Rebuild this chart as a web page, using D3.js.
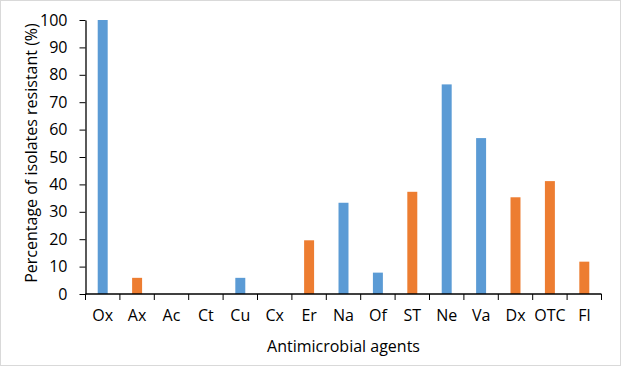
<!DOCTYPE html>
<html>
<head>
<meta charset="utf-8">
<script src="https://cdn.jsdelivr.net/npm/d3@7"></script>
<style>
  body { margin: 0; background: #fff; }
  svg { font-family: "Open Sans", "Noto Sans", sans-serif; }
</style>
</head>
<body>
<div id="chart"></div>
<script>
// Data
var agents = ["Ox", "Ax", "Ac", "Ct", "Cu", "Cx", "Er", "Na", "Of", "ST", "Ne", "Va", "Dx", "OTC", "Fl"];
var resistant = [100, 5.9, 0, 0, 5.9, 0, 19.6, 33.3, 7.8, 37.3, 76.5, 56.9, 35.3, 41.2, 11.8];
var group = ["b", "o", "o", "o", "b", "b", "o", "b", "b", "o", "b", "b", "o", "o", "o"];
var yTicks = [0, 10, 20, 30, 40, 50, 60, 70, 80, 90, 100];

var colors = { b: "#5B9BD5", o: "#ED7D31" };

var width = 622,
    height = 368;

// plot area
var plotLeft = 85.5, plotRight = 601.5, plotTop = 20, plotBottom = 294;

var svg = d3.select("#chart")
            .append("svg")
              .attr("width", width)
              .attr("height", height);

// chart border
svg.append("rect")
   .attr("x", 0.5).attr("y", 0.5)
   .attr("width", 620).attr("height", 365)
   .attr("fill", "#fff")
   .attr("stroke", "#d9d9d9");

// Scales
var scaleX = d3.scaleBand()
               .domain(agents)
               .range([plotLeft, plotRight])
               .paddingInner(0.71)
               .paddingOuter(0.355);

var scaleY = d3.scaleLinear()
               .domain([0, 100])
               .range([plotBottom, plotTop]);

// Bars
svg.selectAll(".bar")
   .data(agents)
   .enter()
   .append("rect")
     .attr("class", "bar")
     .attr("x", function(d) { return scaleX(d); })
     .attr("y", function(d, i) { return scaleY(resistant[i]); })
     .attr("width", scaleX.bandwidth())
     .attr("height", function(d, i) { return plotBottom - scaleY(resistant[i]); })
     .attr("fill", function(d, i) { return colors[group[i]]; });

// Y axis
var yAxis = svg.append("g")
   .attr("transform", "translate(" + plotLeft + ",0)")
   .call(d3.axisLeft(scaleY).tickValues(yTicks).tickSize(6).tickSizeOuter(0).tickPadding(12));

// X axis, tick marks sit between categories
var xAxis = svg.append("g")
   .attr("transform", "translate(0," + plotBottom + ")")
   .call(d3.axisBottom(scaleX).tickSize(0).tickPadding(16));

var step = (plotRight - plotLeft) / agents.length;
xAxis.selectAll(".sep")
     .data(d3.range(agents.length + 1))
     .enter()
     .append("line")
       .attr("class", "sep")
       .attr("x1", function(i) { return plotLeft + i * step; })
       .attr("x2", function(i) { return plotLeft + i * step; })
       .attr("y1", 0).attr("y2", 6)
       .attr("stroke", "#000");

[xAxis, yAxis].forEach(function(a) {
  a.select(".domain").attr("stroke", "#000").attr("stroke-width", 1.3);
  a.selectAll(".tick line").attr("stroke", "#000");
  a.selectAll("text").attr("font-size", "16px").attr("fill", "#000")
   .attr("font-family", "'Open Sans', sans-serif");
});
xAxis.select(".domain").attr("d", "M" + plotLeft + ",0H" + plotRight);

// Axis titles
svg.append("text")
   .attr("x", (plotLeft + plotRight) / 2)
   .attr("y", 352)
   .attr("text-anchor", "middle")
   .attr("font-size", "16px")
   .text("Antimicrobial agents");

svg.append("text")
   .attr("transform", "translate(37,153) rotate(-90)")
   .attr("text-anchor", "middle")
   .attr("font-size", "16px")
   .text("Percentage of isolates resistant (%)");
</script>
</body>
</html>
